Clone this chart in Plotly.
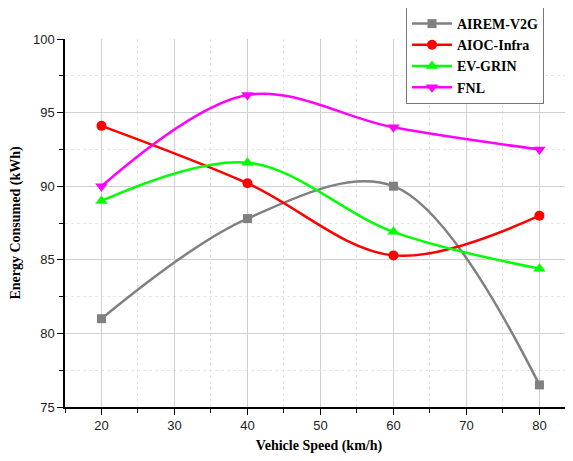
import plotly.graph_objects as go

speeds = [20, 40, 60, 80]
airem_v2g = [81.0, 87.8, 90.0, 76.5]
aioc_infra = [94.1, 90.2, 85.3, 88.0]
ev_grin = [89.0, 91.6, 86.9, 84.4]
fnl = [90.0, 96.2, 94.0, 92.5]

series = [
    ("AIREM-V2G", airem_v2g, "#808080", "square", 9),
    ("AIOC-Infra", aioc_infra, "#ff0000", "circle", 10),
    ("EV-GRIN", ev_grin, "#00ff00", "triangle-up", 11),
    ("FNL", fnl, "#ff00ff", "triangle-down", 11),
]

fig = go.Figure()
for name, vals, col, sym, sz in series:
    fig.add_trace(go.Scatter(
        x=speeds, y=vals, name="<b>" + name + "</b>", mode="lines+markers",
        line=dict(color=col, width=2.5, shape="spline", smoothing=1.0),
        marker=dict(color=col, symbol=sym, size=sz),
    ))

common = dict(
    showline=True, linecolor="black", linewidth=1.5,
    ticks="outside", ticklen=6, tickwidth=1.2, tickcolor="black",
    showgrid=True, gridcolor="#d0d0d0", gridwidth=1,
    tickfont=dict(family="Liberation Sans, Arial", size=13, color="#222"),
    zeroline=False, automargin=False,
)
minor_common = dict(ticks="outside", ticklen=4, tickwidth=1.2, tickcolor="black",
                    showgrid=True, gridcolor="#e6e6e6", griddash="dot", gridwidth=1)
title_font = dict(family="Liberation Serif, Times New Roman", size=14, color="black")

# page has an 8px body margin, so the figure is shifted by 8px
W, H = 565, 453
L, T, B = 57, 31, 54
fig.update_layout(
    width=W, height=H,
    margin=dict(l=L, r=0, t=T, b=B, autoexpand=False),
    paper_bgcolor="white", plot_bgcolor="white",
    xaxis=dict(range=[15, 84.6], tick0=20, dtick=10,
               title=dict(text="<b>Vehicle Speed (km/h)</b>", standoff=8, font=title_font),
               minor=dict(minor_common, dtick=5, tick0=15), **common),
    yaxis=dict(range=[75, 100], tick0=75, dtick=5,
               title=dict(text="<b>Energy Consumed (kWh)</b>", standoff=12, font=title_font),
               minor=dict(minor_common, dtick=2.5, tick0=75), **common),
    legend=dict(x=(398 - L) / (W - L), y=1 + (T + 1) / (H - T - B),
                xanchor="left", yanchor="top",
                bordercolor="#777", borderwidth=1, bgcolor="white",
                font=dict(family="Liberation Serif, Times New Roman", size=14, color="black"),
                itemwidth=40, tracegroupgap=0),
)
fig.write_html("out.html")
